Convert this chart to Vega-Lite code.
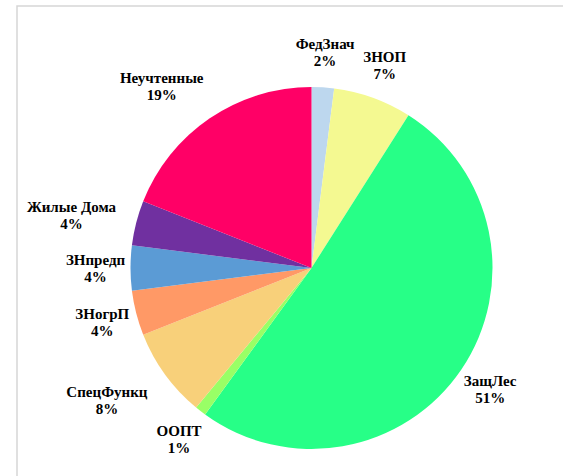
{
  "$schema": "https://vega.github.io/schema/vega-lite/v6.json",
  "autosize": {"type": "fit", "contains": "padding"},
  "width": 563,
  "height": 476,
  "padding": {"left": 13, "top": 6, "right": -43, "bottom": -54},
  "background": "white",
  "view": {"stroke": "#d6d6d6", "strokeWidth": 1.5, "fill": "white"},
  "config": {
    "text": {"font": "Liberation Serif"}
  },
  "data": {
    "values": [
      {"i": 1, "cat": "ФедЗнач", "share": 0.02},
      {"i": 2, "cat": "ЗНОП", "share": 0.07},
      {"i": 3, "cat": "ЗащЛес", "share": 0.51},
      {"i": 4, "cat": "ООПТ", "share": 0.01},
      {"i": 5, "cat": "СпецФункц", "share": 0.08},
      {"i": 6, "cat": "ЗНогрП", "share": 0.04},
      {"i": 7, "cat": "ЗНпредп", "share": 0.04},
      {"i": 8, "cat": "Жилые Дома", "share": 0.04},
      {"i": 9, "cat": "Неучтенные", "share": 0.19}
    ]
  },
  "encoding": {
    "theta": {"field": "share", "type": "quantitative", "stack": true},
    "order": {"field": "i", "type": "quantitative"}
  },
  "layer": [
    {
      "mark": {"type": "arc", "outerRadius": 181},
      "encoding": {
        "color": {
          "field": "cat",
          "type": "nominal",
          "legend": null,
          "scale": {
            "domain": ["ФедЗнач", "ЗНОП", "ЗащЛес", "ООПТ", "СпецФункц", "ЗНогрП", "ЗНпредп", "Жилые Дома", "Неучтенные"],
            "range": ["#BDD7EE", "#F4F991", "#27FF87", "#99FF66", "#F8D07A", "#FF9966", "#5B9BD5", "#7030A0", "#FF0066"]
          }
        }
      }
    },
    {
      "mark": {"type": "text", "radius": 216, "dy": -8, "fontWeight": "bold", "fontSize": 15, "color": "black"},
      "encoding": {
        "text": {
          "condition": {"test": "indexof(['Неучтенные','Жилые Дома','СпецФункц'], datum.cat) < 0", "field": "cat", "type": "nominal"},
          "value": ""
        }
      }
    },
    {
      "mark": {"type": "text", "radius": 216, "dy": 9, "fontWeight": "bold", "fontSize": 15, "color": "black"},
      "encoding": {
        "text": {
          "condition": {"test": "indexof(['Неучтенные','Жилые Дома','СпецФункц'], datum.cat) < 0", "field": "share", "type": "quantitative", "format": ".0%"},
          "value": ""
        }
      }
    },
    {
      "mark": {"type": "text", "radius": 222, "dx": -25, "dy": -6, "fontWeight": "bold", "fontSize": 15, "color": "black"},
      "encoding": {
        "text": {
          "condition": {"test": "indexof(['Неучтенные','Жилые Дома','СпецФункц'], datum.cat) >= 0", "field": "cat", "type": "nominal"},
          "value": ""
        }
      }
    },
    {
      "mark": {"type": "text", "radius": 222, "dx": -25, "dy": 11, "fontWeight": "bold", "fontSize": 15, "color": "black"},
      "encoding": {
        "text": {
          "condition": {"test": "indexof(['Неучтенные','Жилые Дома','СпецФункц'], datum.cat) >= 0", "field": "share", "type": "quantitative", "format": ".0%"},
          "value": ""
        }
      }
    }
  ]
}
